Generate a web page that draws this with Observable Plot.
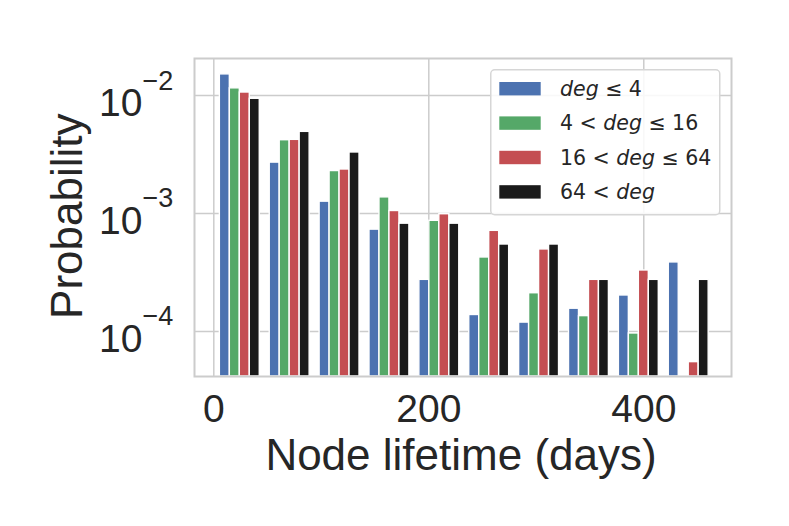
<!DOCTYPE html>
<html><head><meta charset="utf-8">
<script src="https://cdn.jsdelivr.net/npm/d3@7"></script>
<script src="https://cdn.jsdelivr.net/npm/@observablehq/plot@0.6"></script>
<style>
html,body{margin:0;padding:0;background:#fff;}
#wrap{position:relative;width:789px;height:526px;}
#legend{position:absolute;left:490px;top:69px;}
</style></head><body><div id="wrap"></div>
<script>
// ---- data ----
const seriesNames = ["deg ≤ 4", "4 < deg ≤ 16", "16 < deg ≤ 64", "64 < deg"];
const seriesColors = ["#4C72B0", "#55A868", "#C44E52", "#1a1a1a"];
const binLeftEdges = [1, 47.4, 93.8, 140.2, 186.6, 233, 279.4, 325.8, 372.2, 418.6];
const binWidth = 46.4;
const probDegLe4   = [0.0151, 0.0027, 0.00126, 0.00073, 0.000274, 0.000138, 0.000119, 0.000156, 0.000202, 0.000385];
const probDeg4to16 = [0.0115, 0.00418, 0.00229, 0.00137, 0.000867, 0.000424, 0.000211, 0.000135, 0.0000962, 0];
const probDeg16to64= [0.0106, 0.00421, 0.00236, 0.00105, 0.000986, 0.000713, 0.000496, 0.000274, 0.000329, 0.000055];
const probDegGt64  = [0.00938, 0.00492, 0.00329, 0.00082, 0.00082, 0.000546, 0.000546, 0.000274, 0.000274, 0.000274];
const xTicks = [0, 200, 400];
const yTicks = [1e-2, 1e-3, 1e-4];
const yTickExponents = ["−2", "−3", "−4"];
const xDomain = [-17.95, 481.6];
const yDomain = [Math.pow(10, -4.3814), Math.pow(10, -1.6864)];

// ---- table for the grouped histogram ----
const seriesValues = [probDegLe4, probDeg4to16, probDeg16to64, probDegGt64];
const rows = [];
seriesValues.forEach((vals, s) => {
  vals.forEach((v, k) => {
    if (v > 0) {
      const x1 = binLeftEdges[k] + binWidth * (0.1 + 0.2 * s);
      rows.push({series: seriesNames[s], x1, x2: x1 + 0.2 * binWidth, value: v});
    }
  });
});

const font = "'Liberation Sans', Arial, Helvetica, sans-serif";
const textColor = "#262626";
const gridColor = "#cccccc";

const chart = Plot.plot({
  width: 789, height: 526,
  marginLeft: 194, marginRight: 58, marginTop: 58, marginBottom: 150,
  x: {domain: xDomain, axis: null},
  y: {type: "log", domain: yDomain, axis: null},
  color: {domain: seriesNames, range: seriesColors},
  style: {fontFamily: font, color: textColor, background: "white", overflow: "visible"},
  marks: [
    Plot.gridX(xTicks, {stroke: gridColor, strokeOpacity: 1, strokeWidth: 1.5}),
    Plot.gridY(yTicks, {stroke: gridColor, strokeOpacity: 1, strokeWidth: 1.5}),
    Plot.rect(rows, {x1: "x1", x2: "x2", y1: () => yDomain[0], y2: "value", fill: "series",
      stroke: "white", strokeWidth: 1.4, clip: true}),
    Plot.frame({stroke: gridColor, strokeWidth: 2}),
    Plot.text(xTicks, {x: d => d, frameAnchor: "bottom", lineAnchor: "bottom", dy: 45,
      fontSize: 39, fill: textColor}),
    Plot.text(yTicks, {y: d => d, frameAnchor: "left", textAnchor: "end", lineAnchor: "bottom",
      dx: -52, dy: 20.5, text: () => "10", fontSize: 39, fill: textColor}),
    Plot.text(yTicks, {y: d => d, frameAnchor: "left", textAnchor: "start", lineAnchor: "bottom",
      dx: -52, dy: -6, text: (d, i) => yTickExponents[i], fontSize: 27, fill: textColor}),
    Plot.text(["Node lifetime (days)"], {frameAnchor: "bottom", lineAnchor: "bottom",
      dy: 93.5, dx: -2, fontSize: 44, fill: textColor}),
    Plot.text(["Probability"], {frameAnchor: "left", textAnchor: "middle", rotate: -90, lineAnchor: "bottom",
      dx: -112.3, dy: -1.3, fontSize: 44, fill: textColor})
  ]
});
const wrap = document.getElementById("wrap");
wrap.appendChild(chart);

// ---- legend overlay ----
const legendLabels = [
  [["deg", true], [" ≤ 4", false]],
  [["4 < ", false], ["deg", true], [" ≤ 16", false]],
  [["16 < ", false], ["deg", true], [" ≤ 64", false]],
  [["64 < ", false], ["deg", true]]
];
const lg = d3.create("svg").attr("id", "legend").attr("width", 231).attr("height", 147);
lg.append("rect").attr("x", 0.75).attr("y", 0.75).attr("width", 229).attr("height", 145)
  .attr("rx", 4).attr("fill", "white").attr("fill-opacity", 0.85)
  .attr("stroke", "#d6d6d6").attr("stroke-width", 1.5);
const rowY = [19.7, 54.1, 88.5, 122.9];
legendLabels.forEach((parts, i) => {
  lg.append("rect").attr("x", 9.3).attr("y", rowY[i] - 6.7).attr("width", 41.4).attr("height", 13.4)
    .attr("fill", seriesColors[i]);
  const t = lg.append("text").attr("x", 70).attr("y", rowY[i] + 7)
    .attr("font-family", "'DejaVu Sans', sans-serif").attr("font-size", 20.5).attr("fill", textColor)
    .attr("xml:space", "preserve");
  parts.forEach(([s, it]) => t.append("tspan").attr("font-style", it ? "italic" : "normal").text(s));
});
wrap.appendChild(lg.node());
</script></body></html>
